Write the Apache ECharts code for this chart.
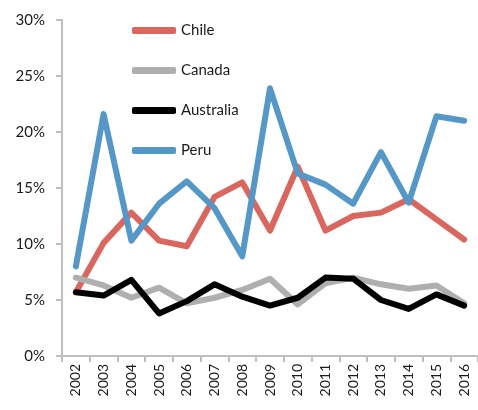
<!DOCTYPE html>
<html>
<head>
<meta charset="utf-8">
<script src="https://cdn.jsdelivr.net/npm/echarts@6/dist/echarts.min.js"></script>
<style>
  html, body { margin: 0; padding: 0; background: #fff; }
  #chart { width: 478px; height: 410px; }
</style>
</head>
<body>
<div id="chart"></div>
<script>
// years on the x axis
const years = ['2002', '2003', '2004', '2005', '2006', '2007', '2008', '2009',
    '2010', '2011', '2012', '2013', '2014', '2015', '2016'];

// shares in percent
const chile = [5.7, 10.1, 12.8, 10.3, 9.8, 14.2, 15.5, 11.2, 16.9, 11.2, 12.5, 12.8, 14.0, 12.2, 10.4];
const canada = [7.0, 6.3, 5.2, 6.1, 4.7, 5.2, 5.9, 6.9, 4.6, 6.5, 7.0, 6.4, 6.0, 6.3, 4.7];
const australia = [5.7, 5.4, 6.8, 3.8, 4.9, 6.4, 5.3, 4.5, 5.2, 7.0, 6.9, 5.0, 4.2, 5.5, 4.5];
const peru = [8.0, 21.6, 10.3, 13.6, 15.6, 13.2, 8.9, 23.9, 16.3, 15.3, 13.6, 18.2, 13.7, 21.4, 21.0];

const yMax = 30;
const yStep = 5;

const font = 'Lato, "Open Sans", sans-serif';
const axisColor = '#bfbfbf';

function lineSeries(name, data, color) {
    return {
        name: name,
        type: 'line',
        data: data,
        symbol: 'none',
        lineStyle: {width: 6, color: color, cap: 'round', join: 'round'},
        itemStyle: {color: color}
    };
}

const chart = echarts.init(document.getElementById('chart'));

chart.setOption({
    animation: false,
    grid: {left: 62, top: 20, width: 418, height: 336},
    legend: {
        orient: 'vertical',
        left: 127,
        top: 18,
        itemWidth: 44,
        itemHeight: 7,
        itemGap: 25,
        icon: 'roundRect',
        textStyle: {fontFamily: font, fontSize: 15, color: '#1a1a1a'},
        data: ['Chile', 'Canada', 'Australia', 'Peru']
    },
    xAxis: {
        type: 'category',
        data: years,
        boundaryGap: true,
        axisLine: {lineStyle: {color: axisColor, width: 2}},
        axisTick: {show: true, length: 6, lineStyle: {color: axisColor, width: 2}},
        axisLabel: {
            rotate: 90,
            margin: 8,
            fontFamily: font,
            fontSize: 14,
            color: '#1a1a1a'
        }
    },
    yAxis: {
        type: 'value',
        min: 0,
        max: yMax,
        interval: yStep,
        splitLine: {show: false},
        axisLine: {show: true, lineStyle: {color: axisColor, width: 2}},
        axisTick: {show: true, length: 6, lineStyle: {color: axisColor, width: 2}},
        axisLabel: {
            formatter: '{value}%',
            margin: 17,
            fontFamily: font,
            fontSize: 15,
            color: '#1a1a1a'
        }
    },
    series: [
        lineSeries('Chile', chile, '#d9675f'),
        lineSeries('Canada', canada, '#afafaf'),
        lineSeries('Australia', australia, '#000000'),
        lineSeries('Peru', peru, '#5597c6')
    ]
});
</script>
</body>
</html>
